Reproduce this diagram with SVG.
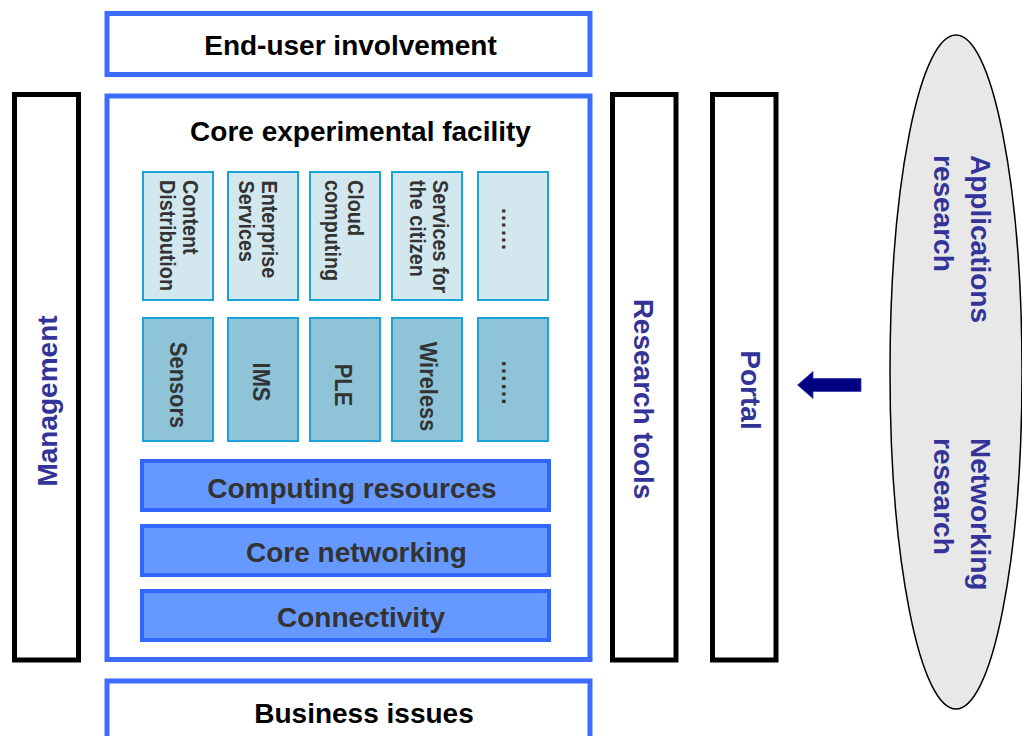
<svg xmlns="http://www.w3.org/2000/svg" width="1022" height="736" viewBox="0 0 1022 736">
  <style>
    text { font-family: "Liberation Sans", Arial, Helvetica, sans-serif; font-weight: bold; }
    .frame { fill: #ffffff; stroke: #3d6bff; stroke-width: 5; }
    .side { fill: #ffffff; stroke: #000000; stroke-width: 5; }
    .svc { fill: #d3e7ef; stroke: #1aa3d9; stroke-width: 2; }
    .tech { fill: #8fc4d8; stroke: #1aa3d9; stroke-width: 2; }
    .layer { fill: #6699ff; stroke: #3366ff; stroke-width: 4; }
    .title { font-size: 28px; fill: #000000; text-anchor: middle; }
    .layerText { font-size: 28px; fill: #333333; text-anchor: middle; }
    .svcText { font-size: 22px; fill: #333333; }
    .techText { font-size: 23px; fill: #333333; text-anchor: middle; }
    .blue { font-size: 28px; fill: #333399; }
    .mid { text-anchor: middle; }
  </style>

  <!-- Top band -->
  <g id="end-user">
    <rect class="frame" x="107" y="13.5" width="483" height="61"/>
    <text class="title" x="350.5" y="55">End-user involvement</text>
  </g>

  <!-- Main facility frame -->
  <g id="core-facility">
    <rect class="frame" x="107" y="96" width="483" height="563.5"/>
    <text class="title" x="360.5" y="141">Core experimental facility</text>
  </g>

  <!-- Service row -->
  <g id="svc-content">
    <rect class="svc" x="143" y="172" width="70" height="128"/>
    <text class="svcText" transform="translate(183.3,180) rotate(90) scale(0.9,1)"><tspan x="0" y="0">Content</tspan><tspan x="0" y="23.3">Distribution</tspan></text>
  </g>
  <g id="svc-enterprise">
    <rect class="svc" x="228" y="172" width="70" height="128"/>
    <text class="svcText" transform="translate(262,180.5) rotate(90) scale(0.9,1)"><tspan x="0" y="0">Enterprise</tspan><tspan x="0" y="23.5">Services</tspan></text>
  </g>
  <g id="svc-cloud">
    <rect class="svc" x="310" y="172" width="70" height="128"/>
    <text class="svcText" transform="translate(348.3,180) rotate(90) scale(0.9,1)"><tspan x="0" y="0">Cloud</tspan><tspan x="0" y="23.7">computing</tspan></text>
  </g>
  <g id="svc-citizen">
    <rect class="svc" x="392" y="172" width="70" height="128"/>
    <text class="svcText" transform="translate(433.3,180) rotate(90) scale(0.9,1)"><tspan x="0" y="0">Services for</tspan><tspan x="0" y="23.3">the citizen</tspan></text>
  </g>
  <g id="svc-more">
    <rect class="svc" x="478" y="172" width="70" height="128"/>
    <text class="svcText mid" transform="translate(502,229) rotate(90)">……</text>
  </g>

  <!-- Technology row -->
  <g id="tech-sensors">
    <rect class="tech" x="143" y="318" width="70" height="123"/>
    <text class="techText" transform="translate(170,385) rotate(90) scale(0.95,1)">Sensors</text>
  </g>
  <g id="tech-ims">
    <rect class="tech" x="228" y="318" width="70" height="123"/>
    <text class="techText" transform="translate(253.3,382) rotate(90) scale(0.95,1)">IMS</text>
  </g>
  <g id="tech-ple">
    <rect class="tech" x="310" y="318" width="70" height="123"/>
    <text class="techText" transform="translate(335,385) rotate(90) scale(0.95,1)">PLE</text>
  </g>
  <g id="tech-wireless">
    <rect class="tech" x="392" y="318" width="70" height="123"/>
    <text class="techText" transform="translate(420,386.5) rotate(90) scale(0.95,1)">Wireless</text>
  </g>
  <g id="tech-more">
    <rect class="tech" x="478" y="318" width="70" height="123"/>
    <text class="techText" transform="translate(502,382.5) rotate(90)">……</text>
  </g>

  <!-- Infrastructure layers -->
  <g id="computing-resources">
    <rect class="layer" x="142" y="461" width="407" height="49"/>
    <text class="layerText" x="352" y="498">Computing resources</text>
  </g>
  <g id="core-networking">
    <rect class="layer" x="142" y="526" width="407" height="49"/>
    <text class="layerText" x="356.5" y="562">Core networking</text>
  </g>
  <g id="connectivity">
    <rect class="layer" x="142" y="591" width="407" height="49"/>
    <text class="layerText" x="361" y="627">Connectivity</text>
  </g>

  <!-- Bottom band -->
  <g id="business">
    <rect class="frame" x="107" y="681" width="483" height="80"/>
    <text class="title" x="364" y="723">Business issues</text>
  </g>

  <!-- Side columns -->
  <g id="management">
    <rect class="side" x="14.5" y="94.5" width="64" height="565.5"/>
    <text class="blue mid" transform="translate(57,401) rotate(-90)">Management</text>
  </g>
  <g id="research-tools">
    <rect class="side" x="612.5" y="94.5" width="63.5" height="565.5"/>
    <text class="blue mid" transform="translate(634,399) rotate(90)">Research tools</text>
  </g>
  <g id="portal">
    <rect class="side" x="712.5" y="94.5" width="63.5" height="565.5"/>
    <text class="blue mid" transform="translate(741,390) rotate(90)">Portal</text>
  </g>

  <!-- Research communities -->
  <g id="research">
    <ellipse cx="956" cy="372" rx="66" ry="337" fill="#e8e8e8" stroke="#000000" stroke-width="1.5"/>
    <text class="blue" transform="translate(971,155) rotate(90)">Applications</text>
    <text class="blue" transform="translate(934,155) rotate(90)">research</text>
    <text class="blue" transform="translate(971,438) rotate(90)">Networking</text>
    <text class="blue" transform="translate(934,438) rotate(90)">research</text>
  </g>

  <!-- Connectors -->
  <g id="connectors">
    <polygon points="861,378.5 813,378.5 813,371.5 797.5,385 813,398.5 813,391.5 861,391.5" fill="#000080" stroke="#3a3ab0" stroke-width="0.8"/>
  </g>
</svg>
